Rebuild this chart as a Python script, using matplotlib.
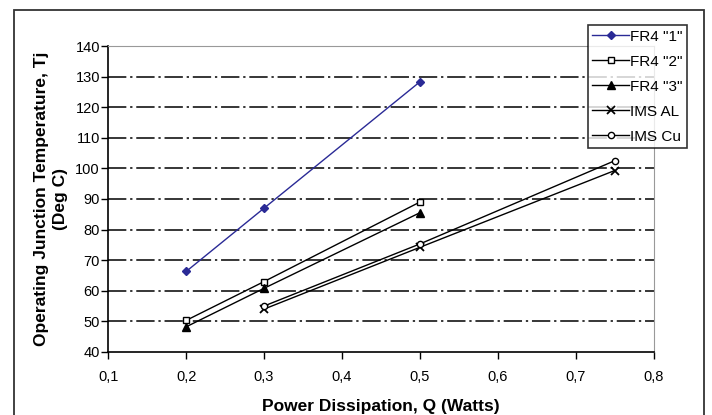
import matplotlib.pyplot as plt
from matplotlib.patches import Rectangle
from matplotlib.ticker import FuncFormatter

plt.rcParams['font.family'] = ['Liberation Sans', 'DejaVu Sans']

# data
x_fr4 = [0.2, 0.3, 0.5]
fr4_1 = [66.3, 87, 128.3]
fr4_2 = [50.3, 63, 89]
fr4_3 = [48.2, 60.8, 85.5]
x_ims = [0.3, 0.5, 0.75]
ims_al = [54, 74.2, 99.3]
ims_cu = [55, 75.3, 102.5]

yticks = list(range(40, 141, 10))
xticks = [0.1, 0.2, 0.3, 0.4, 0.5, 0.6, 0.7, 0.8]

fig = plt.figure(figsize=(7.12, 4.15), dpi=100)
ax = fig.add_axes([0.152, 0.152, 0.766, 0.737])

# outer frame
fig.patches.append(Rectangle((0.0195, -0.05), 0.969, 1.026, transform=fig.transFigure,
                             fill=False, edgecolor='#333333', linewidth=1.3))

for yv in yticks[1:-1]:
    ax.axhline(yv, color='black', linestyle=(0, (12, 2.5, 1.5, 2.5)), linewidth=1.1, zorder=1)

ax.plot(x_fr4, fr4_1, color='#2a2a96', marker='D', markersize=4.5, linewidth=1.0, label='FR4 "1"', zorder=3)
ax.plot(x_fr4, fr4_2, color='black', marker='s', markersize=4.5, markerfacecolor='white', linewidth=1.0, label='FR4 "2"', zorder=3)
ax.plot(x_fr4, fr4_3, color='black', marker='^', markersize=5.5, linewidth=1.0, label='FR4 "3"', zorder=3)
ax.plot(x_ims, ims_al, color='black', marker='x', markersize=5.5, markeredgewidth=1.3, linewidth=1.0, label='IMS AL', zorder=3)
ax.plot(x_ims, ims_cu, color='black', marker='o', markersize=4.5, markerfacecolor='white', linewidth=1.0, label='IMS Cu', zorder=3)

ax.set_xlim(0.1, 0.8)
ax.set_ylim(40, 140)
ax.set_xticks(xticks)
ax.set_yticks(yticks)
ax.xaxis.set_major_formatter(FuncFormatter(lambda v, p: ('%.1f' % v).replace('.', ',')))
ax.tick_params(direction='out', length=5, width=1.0, labelsize=10.5, colors='black')
ax.tick_params(axis='x', pad=8)
ax.tick_params(axis='y', pad=1)
ax.spines['top'].set_color('#999999')
ax.spines['right'].set_color('#999999')
ax.spines['left'].set_linewidth(1.2)
ax.spines['bottom'].set_linewidth(1.2)

ax.set_xlabel('Power Dissipation, Q (Watts)', fontsize=12.5, fontweight='bold', labelpad=11)
ax.set_ylabel('Operating Junction Temperature, Tj\n(Deg C)', fontsize=12.5, fontweight='bold',
              labelpad=5, linespacing=1.4)

leg = ax.legend(loc='upper left', bbox_to_anchor=(0.879, 1.069), fontsize=11, frameon=True,
                fancybox=False, edgecolor='black', handlelength=2.4, handletextpad=0.05,
                labelspacing=0.72, borderpad=0.3, borderaxespad=0)
leg.get_frame().set_linewidth(1.2)

fig.savefig('out.png', dpi=100)
